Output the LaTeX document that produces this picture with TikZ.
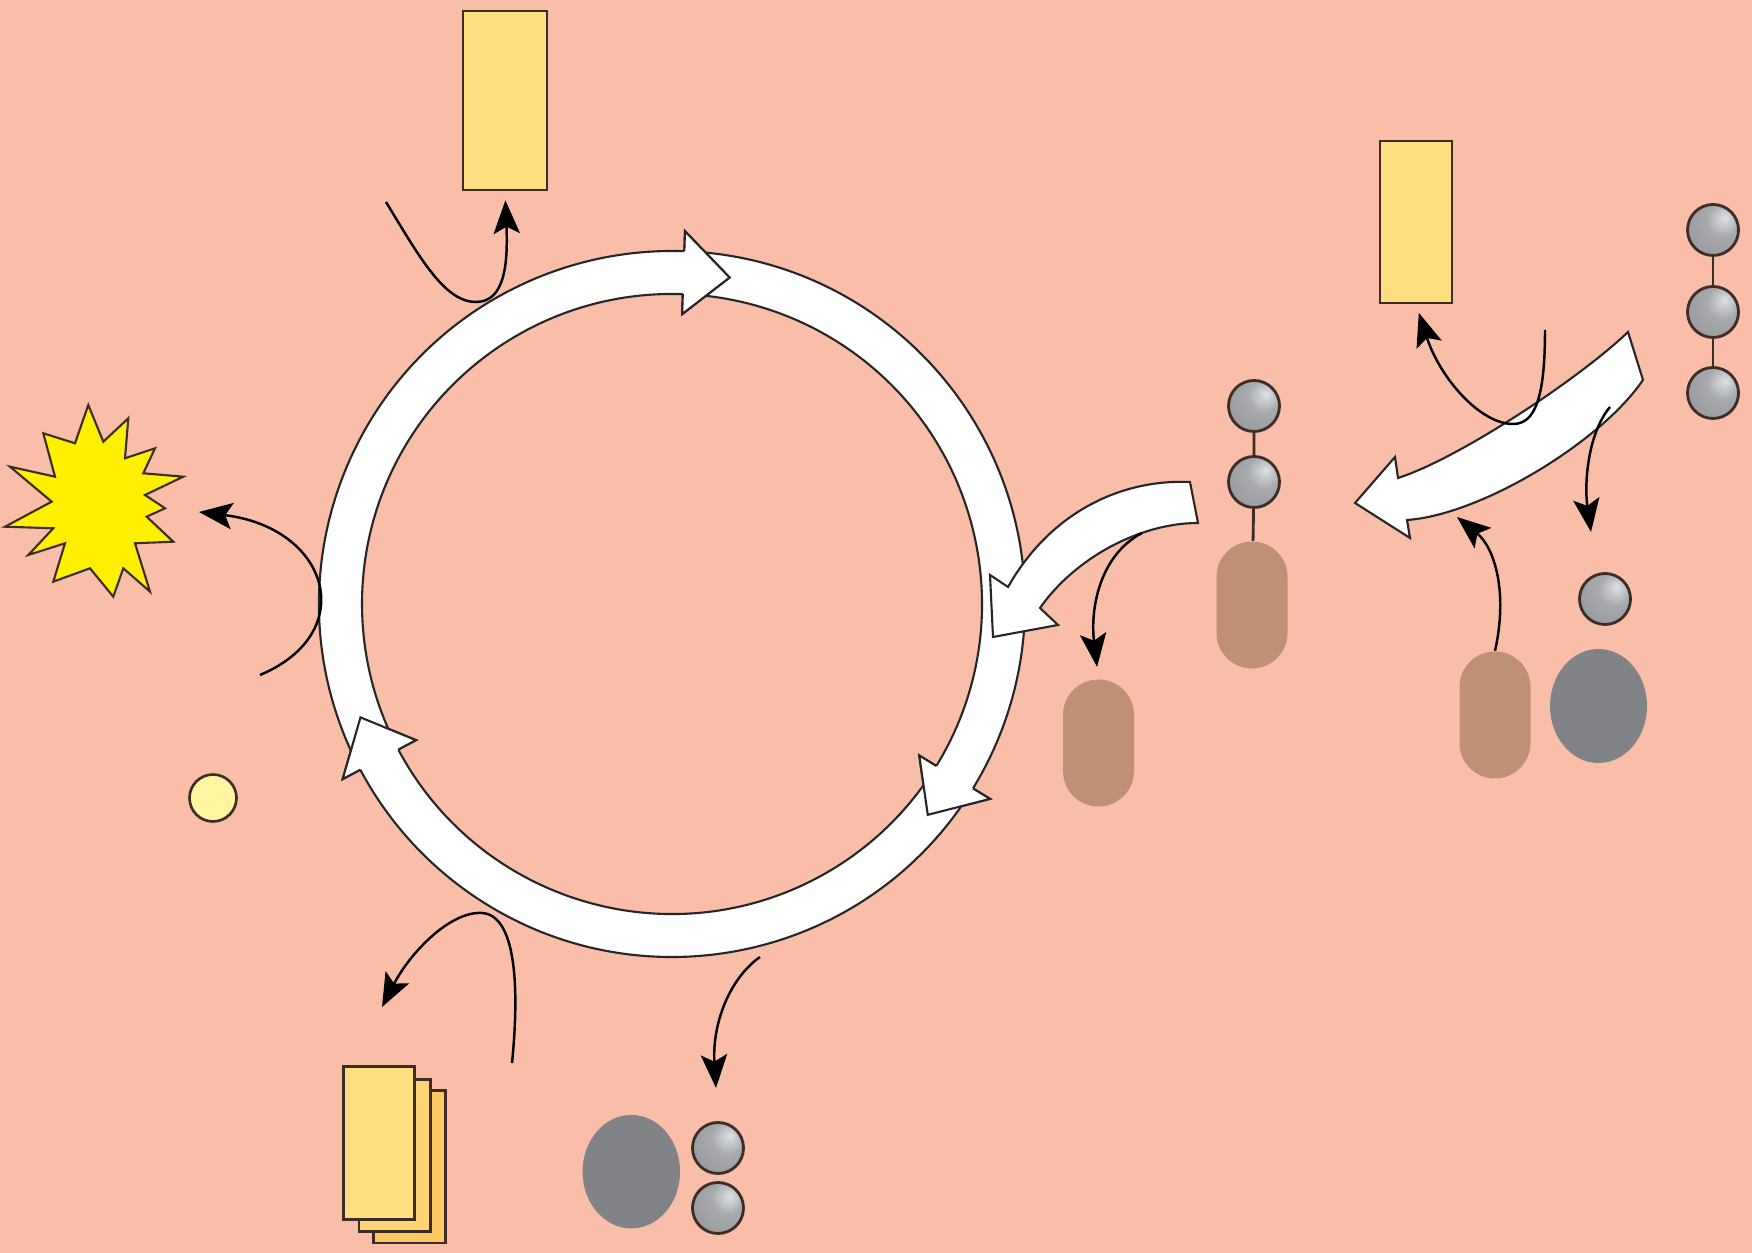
\documentclass[tikz,border=0pt]{standalone}
\usepackage{tikz}
\usepackage{xcolor}
\usetikzlibrary{arrows.meta, positioning, shapes.geometric}

\definecolor{bgsalmon}{RGB}{249,190,168}
\definecolor{cardyellow}{RGB}{255,222,128}
\definecolor{cardmid}{RGB}{255,212,118}
\definecolor{cardback}{RGB}{255,200,96}
\definecolor{outline}{RGB}{60,45,38}
\definecolor{capsbrown}{RGB}{190,144,116}
\definecolor{blobgray}{RGB}{130,131,134}
\definecolor{burst}{RGB}{255,240,0}
\definecolor{paleyellow}{RGB}{255,245,160}
\definecolor{beadhi}{RGB}{222,225,228}
\definecolor{beadmid}{RGB}{150,152,156}
\definecolor{beaddark}{RGB}{95,97,101}

\pgfdeclareradialshading{metalbead}{\pgfqpoint{12bp}{12bp}}{color(0bp)=(beadhi); color(16bp)=(beadmid!75!beadhi); color(38bp)=(beadmid); color(60bp)=(beaddark); color(80bp)=(beaddark)}

\begin{document}
\begin{tikzpicture}[
    ringline/.style={draw=black!85, line width=0.6pt, line join=miter},
    bigarrow/.style={ringline, fill=white},
    flow/.style={draw=black, line width=0.7pt, -{Stealth[length=9.5pt, width=7.5pt, inset=2pt]}},
    card/.style={rectangle, draw=outline, line width=0.75pt, fill=cardyellow, inner sep=0pt, minimum width=0.715cm, minimum height=1.525cm},
    bead/.style={circle, draw=outline, line width=0.8pt, shade, shading=metalbead, inner sep=0pt, minimum size=0.51cm},
    capsule/.style={rectangle, rounded corners=0.355cm, fill=capsbrown, inner sep=0pt, minimum width=0.71cm, minimum height=1.27cm},
    blob/.style={ellipse, fill=blobgray, inner sep=0pt, minimum width=0.97cm, minimum height=1.14cm},
    link/.style={draw=outline, line width=0.8pt}
]
\useasboundingbox (0,0) rectangle (17.52,12.53);
\fill[bgsalmon] (0,0) rectangle (17.52,12.53);

% the cycle
\begin{scope}[shift={(6.72,6.49)}]
    \foreach \s/\b/\t in {85/-31.5/-39.5, -34.5/-152/-160, -155/-272/-280}
        \draw[bigarrow] (\s:3.53) arc[start angle=\s, end angle=\b, radius=3.53]
            -- (\b:3.73) -- (\t:3.315) -- (\b:2.90) -- (\b:3.10)
            arc[start angle=\b, end angle=\s, radius=3.10] -- cycle;
    % heads again, over the next segment
    \foreach \b/\t in {-31.5/-39.5, -152/-160, -272/-280} {
        \fill[white] (\b:3.53) -- (\b:3.73) -- (\t:3.315) -- (\b:2.90) -- (\b:3.10) -- cycle;
        \draw[ringline] (\b:3.53) -- (\b:3.73) -- (\t:3.315) -- (\b:2.90) -- (\b:3.10);
    }
\end{scope}

% side arrows
\draw[bigarrow] (11.90,7.71) .. controls (11.2,7.74) and (10.5,7.4) .. (10.08,6.66)
    -- (9.90,6.78) -- (9.93,6.16) -- (10.58,6.28) -- (10.40,6.45)
    .. controls (10.75,6.95) and (11.4,7.3) .. (11.98,7.30) -- cycle;
\draw[bigarrow] (16.28,9.21) .. controls (15.8,8.75) and (14.6,7.95) .. (13.98,7.75)
    -- (13.95,7.96) -- (13.55,7.50) -- (14.10,7.15) -- (14.07,7.33)
    .. controls (14.8,7.38) and (16.0,8.1) .. (16.43,8.73) -- cycle;

% cards
\node[card, minimum width=0.84cm, minimum height=1.79cm] (cardtop) at (5.05,11.525) {};
\node[card, minimum width=0.72cm, minimum height=1.62cm] (cardright) at (14.16,10.31) {};
\node[card, fill=cardback] (stackc) at (4.095,0.863) {};
\node[card, fill=cardmid] (stackb) at (3.947,0.975) {};
\node[card] (stacka) at (3.79,1.10) {};

% flash and dot
\draw[outline, line width=0.6pt, fill=burst, line join=miter] (0.883,8.48) -- (1.033,8.113) -- (1.283,8.347) -- (1.25,7.947)
    -- (1.55,8.047) -- (1.433,7.797) -- (1.833,7.763) -- (1.45,7.58) -- (1.65,7.447) -- (1.467,7.363)
    -- (1.733,7.113) -- (1.35,7.097) -- (1.50,6.613) -- (1.233,6.847) -- (1.133,6.563) -- (0.90,6.847)
    -- (0.533,6.713) -- (0.65,7.097) -- (0.283,6.98) -- (0.533,7.247) -- (0.05,7.263) -- (0.517,7.513)
    -- (0.10,7.863) -- (0.55,7.763) -- (0.433,8.197) -- (0.75,8.097) -- cycle;
\node[circle, draw=outline, line width=0.75pt, fill=paleyellow, minimum size=0.47cm, inner sep=0pt] (dot) at (2.13,4.55) {};

% beads, capsules, blobs
\node[bead] (chainA) at (17.13,10.23) {};
\node[bead] (chainB) at (17.13,9.41) {};
\node[bead] (chainC) at (17.13,8.60) {};
\draw[link] (chainA) -- (chainB) -- (chainC);

\node[bead] (midA) at (12.54,8.47) {};
\node[bead] (midB) at (12.54,7.71) {};
\node[capsule] (capsM) at (12.52,6.48) {};
\draw[link] (midA) -- (midB) -- (capsM);

\node[capsule] (capsL) at (10.985,5.10) {};
\node[bead] (lone) at (16.05,6.54) {};
\node[capsule] (capsR) at (14.95,5.38) {};
\node[blob] (blobR) at (15.985,5.47) {};

\node[blob, minimum width=0.975cm, minimum height=1.135cm] (blobB) at (6.313,0.813) {};
\node[bead] (lowA) at (7.18,1.05) {};
\node[bead] (lowB) at (7.18,0.45) {};

% connectors
\coordinate (c1) at (3.86,10.51);
\coordinate (c2) at (15.45,9.23);
\coordinate (c3) at (16.10,8.46);
\coordinate (t3) at (15.91,7.21);
\coordinate (t4) at (14.57,7.36);
\coordinate (c5) at (11.42,7.20);
\coordinate (c6) at (2.60,5.78);
\coordinate (t6) at (1.99,7.41);
\coordinate (c7) at (5.12,1.90);
\coordinate (t7) at (3.82,2.46);
\coordinate (c8) at (7.60,2.96);
\coordinate (t8) at (7.16,1.65);

\draw[flow, shorten >=0.09cm] (c1) .. controls (4.2,9.95) and (4.45,9.5) .. (4.77,9.51)
    .. controls (5.05,9.52) and (5.08,9.9) .. (cardtop.south);
\draw[flow, shorten >=0.09cm] (c2) .. controls (15.45,8.55) and (15.35,8.29) .. (15.13,8.29)
    .. controls (14.8,8.29) and (14.4,8.75) .. (cardright.south);
\draw[flow] (c3) .. controls (15.88,8.2) and (15.84,7.7) .. (t3);
\draw[flow] (capsR.north) .. controls (15.08,6.6) and (14.95,7.05) .. (t4);
\draw[flow, shorten >=0.12cm] (c5) .. controls (11.0,6.98) and (10.9,6.45) .. (capsL.north);
\draw[flow] (c6) .. controls (3.6,6.2) and (3.3,7.25) .. (t6);
\draw[flow] (c7) .. controls (5.2,2.7) and (5.15,3.38) .. (4.82,3.40)
    .. controls (4.5,3.42) and (4.1,3.0) .. (t7);
\draw[flow] (c8) .. controls (7.3,2.75) and (7.12,2.3) .. (t8);
\end{tikzpicture}
\end{document}
